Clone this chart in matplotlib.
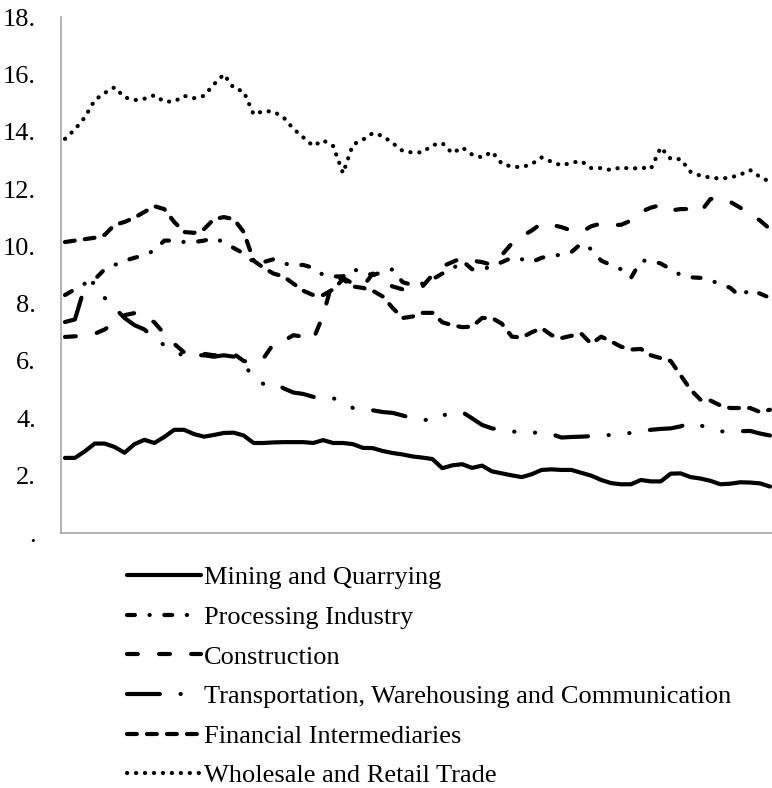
import matplotlib
matplotlib.use("Agg")
from matplotlib import pyplot as plt

# series, one value per period
periods = list(range(72))

mining = [2.62, 2.62, 2.85, 3.12, 3.12, 3.0, 2.8, 3.1, 3.25, 3.14, 3.35, 3.6, 3.6, 3.45, 3.36, 3.42, 3.49, 3.5,
          3.4, 3.14, 3.14, 3.16, 3.17, 3.17, 3.17, 3.14, 3.24, 3.14, 3.14, 3.1, 2.97, 2.96, 2.86, 2.79, 2.74, 2.67,
          2.63, 2.58, 2.26, 2.36, 2.4, 2.27, 2.35, 2.15, 2.08, 2.01, 1.95, 2.05, 2.2, 2.22, 2.2, 2.2, 2.1, 2.0,
          1.85, 1.74, 1.7, 1.7, 1.85, 1.8, 1.8, 2.07, 2.08, 1.95, 1.9, 1.82, 1.7, 1.72, 1.77, 1.76, 1.73, 1.62]

processing = [8.3, 8.5, 8.7, 8.85, 9.2, 9.35, 9.5, 9.6, 9.7, 9.85, 10.2, 10.2, 10.15, 10.15, 10.2, 10.28, 10.15, 9.94,
              9.75, 9.45, 9.45, 9.55, 9.4, 9.35, 9.35, 9.25, 9.0, 8.95, 8.95, 9.2, 9.1, 9.0, 9.1, 9.2, 8.75, 8.65,
              8.7, 8.85, 9.05, 9.2, 9.5, 9.2, 9.2, 9.3, 9.45, 9.6, 9.55, 9.45, 9.6, 9.68, 9.7, 9.8, 10.1, 9.9,
              9.5, 9.35, 9.2, 8.9, 9.5, 9.5, 9.4, 9.2, 9.0, 8.92, 8.9, 8.8, 8.7, 8.55, 8.25, 8.5, 8.35, 8.2]

construction = [6.84, 6.86, 6.9, 6.95, 7.1, 7.35, 7.6, 7.67, 7.55, 7.35, 6.95, 6.6, 6.3, 6.25, 6.25, 6.2, 6.22, 6.25,
                6.0, 5.95, 6.1, 6.6, 6.7, 6.9, 6.85, 6.75, 7.6, 8.85, 8.9, 8.7, 8.6, 9.05, 8.75, 8.6, 8.5, 8.55,
                8.6, 9.0, 9.3, 9.45, 9.6, 9.5, 9.45, 9.35, 9.7, 10.1, 10.35, 10.55, 10.8, 10.75, 10.67, 10.55, 10.5,
                10.7, 10.8, 10.74, 10.75, 10.9, 11.2, 11.35, 11.44, 11.25, 11.3, 11.3, 11.2, 11.65, 11.7, 11.55,
                11.35, 11.1, 10.9, 10.6]

transport = [7.36, 7.45, 8.6, 8.75, 8.2, 7.85, 7.5, 7.25, 7.1, 6.8, 6.55, 6.3, 6.2, 6.2, 6.2, 6.15, 6.2, 6.15,
             5.95, 5.35, 5.2, 5.24, 5.05, 4.9, 4.85, 4.75, 4.68, 4.7, 4.6, 4.36, 4.33, 4.28, 4.22, 4.19, 4.1, 4.0,
             3.97, 3.9, 4.1, 4.18, 4.22, 4.0, 3.77, 3.65, 3.6, 3.55, 3.49, 3.5, 3.5, 3.45, 3.33, 3.35, 3.36, 3.38,
             3.4, 3.42, 3.46, 3.49, 3.55, 3.6, 3.63, 3.65, 3.72, 3.84, 3.75, 3.66, 3.55, 3.52, 3.55, 3.56, 3.47, 3.4]

financial = [10.15, 10.2, 10.25, 10.3, 10.4, 10.75, 10.85, 11.0, 11.2, 11.4, 11.3, 10.85, 10.5, 10.47, 10.6, 10.95,
             11.02, 10.95, 10.5, 9.5, 9.25, 9.05, 8.95, 8.7, 8.45, 8.3, 8.3, 8.5, 8.85, 8.6, 8.55, 8.45, 8.25, 7.85,
             7.5, 7.55, 7.68, 7.68, 7.35, 7.25, 7.18, 7.2, 7.5, 7.5, 7.3, 6.85, 6.82, 7.0, 7.15, 6.9, 6.8, 6.88,
             6.95, 6.6, 6.85, 6.68, 6.5, 6.4, 6.42, 6.2, 6.1, 6.0, 5.5, 5.0, 4.65, 4.62, 4.45, 4.36, 4.36, 4.36,
             4.22, 4.3]

wholesale = [13.75, 14.08, 14.5, 15.1, 15.35, 15.55, 15.2, 15.1, 15.15, 15.27, 15.05, 15.05, 15.25, 15.17, 15.25,
             15.65, 16.0, 15.52, 15.4, 14.6, 14.72, 14.7, 14.5, 14.1, 13.8, 13.5, 13.7, 13.5, 12.55, 13.55, 13.72,
             13.95, 13.85, 13.6, 13.33, 13.27, 13.28, 13.53, 13.6, 13.25, 13.45, 13.2, 13.1, 13.3, 12.88, 12.78,
             12.76, 12.87, 13.1, 12.95, 12.82, 12.92, 12.97, 12.73, 12.73, 12.66, 12.76, 12.7, 12.75, 12.7, 13.45,
             13.05, 13.04, 12.6, 12.46, 12.4, 12.36, 12.4, 12.5, 12.66, 12.42, 12.25]

labels = ["Mining and Quarrying", "Processing Industry", "Construction",
          "Transportation, Warehousing and Communication", "Financial Intermediaries",
          "Wholesale and Retail Trade"]
ytick_vals = [0, 2, 4, 6, 8, 10, 12, 14, 16, 18]
ytick_text = [".", "2.", "4.", "6.", "8.", "10.", "12.", "14.", "16.", "18."]

plt.rcParams["font.family"] = ["Liberation Serif", "DejaVu Serif"]

fig = plt.figure(figsize=(7.72, 7.88), dpi=100)
ax = fig.add_axes([61 / 772, 1 - 533 / 788, 711 / 772, 516 / 788])

lw = 3.0
styles = [
    dict(linestyle="-"),
    dict(dashes=(1.9, 3.5, 0.05, 3.5)),
    dict(dashes=(2.6, 5.1)),
    dict(dashes=(7.9, 4.95, 0.05, 4.95, 0.05, 4.95)),
    dict(dashes=(2.36, 2.44)),
    dict(dashes=(0.05, 2.1)),
]
series = [mining, processing, construction, transport, financial, wholesale]
for vals, st, lab in zip(series, styles, labels):
    ax.plot(periods, vals, color="black", lw=lw, solid_capstyle="round",
            dash_capstyle="round", label=lab, **st)

ax.set_xlim(-0.4, 71.2)
ax.set_ylim(0, 18)
ax.set_xticks([])
ax.set_yticks(ytick_vals)
ax.set_yticklabels(ytick_text, fontsize=19)
ax.tick_params(axis="y", length=0, pad=18)
for s in ["top", "right"]:
    ax.spines[s].set_visible(False)
for s in ["left", "bottom"]:
    ax.spines[s].set_color("#a6a6a6")
    ax.spines[s].set_linewidth(1.2)

fig.legend(loc="upper left", bbox_to_anchor=(127 / 772, 1 - 566 / 788), frameon=False,
           fontsize=19, handlelength=2.8, handletextpad=0.1, labelspacing=0.61, borderpad=0,
           borderaxespad=0)

fig.savefig("out.png", dpi=100)
